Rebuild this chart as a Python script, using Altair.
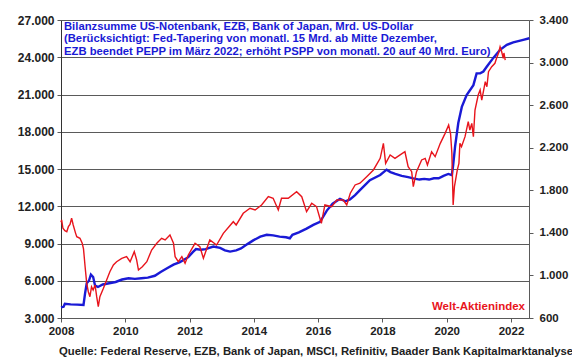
import altair as alt
import pandas as pd

# Bilanzsumme (Mrd. US-Dollar), linke Achse
blue_year = [2008.0, 2008.08, 2008.12, 2008.3, 2008.5, 2008.7, 2008.75, 2008.8, 2008.87, 2008.93,
             2009.0, 2009.06, 2009.15, 2009.3, 2009.5, 2009.7, 2009.9, 2010.1, 2010.3, 2010.5,
             2010.7, 2010.92, 2011.1, 2011.3, 2011.5, 2011.7, 2011.96, 2012.1, 2012.2, 2012.35,
             2012.5, 2012.74, 2012.95, 2013.1, 2013.26, 2013.45, 2013.6, 2013.8, 2013.98, 2014.2,
             2014.4, 2014.6, 2014.8, 2015.0, 2015.12, 2015.2, 2015.4, 2015.64, 2015.85, 2016.06,
             2016.27, 2016.45, 2016.68, 2016.85, 2016.99, 2017.15, 2017.3, 2017.61, 2017.93, 2018.13,
             2018.25, 2018.4, 2018.6, 2018.8, 2018.96, 2019.15, 2019.3, 2019.45, 2019.6, 2019.75,
             2019.9, 2020.05, 2020.16, 2020.2, 2020.26, 2020.36, 2020.47, 2020.62, 2020.83, 2020.93,
             2021.04, 2021.14, 2021.25, 2021.45, 2021.66, 2021.87, 2022.07, 2022.38, 2022.57]
blue_value = [3850, 3900, 4150, 4100, 4080, 4050, 5000, 5800, 6000, 6500,
              6300, 5600, 5500, 5700, 5800, 5900, 6100, 6200, 6150, 6200,
              6250, 6400, 6700, 7000, 7300, 7500, 7900, 8300, 8550, 8500,
              8550, 8750, 8650, 8450, 8350, 8450, 8600, 8950, 9250, 9550,
              9700, 9650, 9550, 9500, 9420, 9700, 9900, 10200, 10500, 10750,
              11650, 12200, 12600, 12400, 12550, 12900, 13300, 14100, 14520, 14950,
              14750, 14600, 14450, 14350, 14250, 14150, 14200, 14150, 14250, 14250,
              14450, 14600, 14500, 15300, 16800, 18700, 20000, 20950, 21750, 22700,
              22700, 22850, 23250, 23950, 24600, 25000, 25200, 25400, 25530]

# Welt-Aktienindex, rechte Achse
red_year = [2008.0, 2008.02, 2008.06, 2008.12, 2008.18, 2008.23, 2008.28, 2008.33, 2008.38, 2008.45,
            2008.49, 2008.59, 2008.66, 2008.7, 2008.75, 2008.8, 2008.85, 2008.9, 2008.95, 2009.0,
            2009.06, 2009.11, 2009.16, 2009.21, 2009.32, 2009.42, 2009.52, 2009.63, 2009.73, 2009.89,
            2010.04, 2010.15, 2010.28, 2010.35, 2010.41, 2010.53, 2010.67, 2010.82, 2010.98, 2011.13,
            2011.24, 2011.39, 2011.5, 2011.55, 2011.65, 2011.76, 2011.86, 2011.96, 2012.17, 2012.32,
            2012.43, 2012.63, 2012.84, 2013.05, 2013.36, 2013.45, 2013.67, 2013.88, 2014.04, 2014.24,
            2014.45, 2014.6, 2014.76, 2014.86, 2015.07, 2015.33, 2015.49, 2015.64, 2015.8, 2015.95,
            2016.1, 2016.21, 2016.42, 2016.58, 2016.78, 2016.89, 2017.0, 2017.15, 2017.3, 2017.51,
            2017.72, 2017.93, 2018.03, 2018.1, 2018.24, 2018.39, 2018.55, 2018.7, 2018.8, 2018.91,
            2018.96, 2019.06, 2019.22, 2019.33, 2019.4, 2019.53, 2019.64, 2019.8, 2019.95, 2020.06,
            2020.12, 2020.16, 2020.2, 2020.24, 2020.33, 2020.38, 2020.41, 2020.46, 2020.57, 2020.67,
            2020.72, 2020.78, 2020.83, 2020.88, 2020.98, 2021.04, 2021.09, 2021.2, 2021.25, 2021.3,
            2021.4, 2021.5, 2021.55, 2021.61, 2021.66, 2021.71, 2021.76, 2021.78, 2021.82]
red_value = [1500, 1521, 1443, 1420, 1411, 1458, 1480, 1537, 1474, 1400,
             1364, 1349, 1302, 1250, 1082, 926, 847, 800, 894, 863,
             910, 800, 706, 800, 879, 957, 1035, 1098, 1129, 1161,
             1176, 1129, 1223, 1150, 1051, 1082, 1129, 1239, 1302, 1349,
             1333, 1380, 1302, 1176, 1129, 1176, 1114, 1192, 1302, 1270,
             1161, 1333, 1286, 1396, 1505, 1474, 1584, 1631, 1615, 1662,
             1740, 1725, 1615, 1725, 1725, 1787, 1740, 1599, 1678, 1646,
             1490, 1662, 1646, 1709, 1709, 1662, 1772, 1850, 1866, 1928,
             1991, 2100, 2241, 2053, 2132, 2100, 2132, 2162, 2022, 1975,
             1834, 1975, 2085, 2100, 2038, 2162, 2116, 2241, 2335, 2413,
             2330, 2150, 1662, 1834, 1991, 2053, 2241, 2210, 2304, 2445,
             2366, 2429, 2304, 2554, 2695, 2742, 2648, 2820, 2773, 2914,
             2961, 2993, 3040, 3087, 3149, 3102, 3040, 3090, 3024]

x_ticks = [2008, 2010, 2012, 2014, 2016, 2018, 2020, 2022]
left_ticks = [3000, 6000, 9000, 12000, 15000, 18000, 21000, 24000, 27000]
right_ticks = [600, 1000, 1400, 1800, 2200, 2600, 3000, 3400]

title_lines = ["Bilanzsumme US-Notenbank, EZB, Bank of Japan, Mrd. US-Dollar",
               "(Berücksichtigt: Fed-Tapering von monatl. 15 Mrd. ab Mitte Dezember,",
               "EZB beendet PEPP im März 2022; erhöht PSPP von monatl. 20 auf 40 Mrd. Euro)"]
series_label = "Welt-Aktienindex"
source_text = "Quelle: Federal Reserve, EZB, Bank of Japan, MSCI, Refinitiv, Baader Bank Kapitalmarktanalyse"

FONT = "Liberation Sans"
BLUE = "#1a1ad6"
RED = "#e8141c"
GRID = "#5a5a5a"
de_fmt = "replace(format(datum.value, ','), ',', '.')"

blue_df = pd.DataFrame({"year": blue_year, "value": blue_value})
red_df = pd.DataFrame({"year": red_year, "value": red_value})

x_enc = alt.X("year:Q",
              scale=alt.Scale(domain=[2008, 2022.56], nice=False, zero=False),
              axis=alt.Axis(values=x_ticks, format="d", title=None, grid=False,
                            labelFont=FONT, labelFontSize=11.5, labelFontWeight="bold",
                            labelColor="#222", tickSize=4, tickColor=GRID,
                            domainColor=GRID, labelPadding=3, labelFlush=False))

blue = alt.Chart(blue_df).mark_line(color=BLUE, strokeWidth=2.4).encode(
    x=x_enc,
    y=alt.Y("value:Q",
            scale=alt.Scale(domain=[3000, 27000], nice=False, zero=False),
            axis=alt.Axis(values=left_ticks, labelExpr=de_fmt, title=None, grid=True,
                          gridColor=GRID, gridWidth=1, gridOpacity=1,
                          labelFont=FONT, labelFontSize=12, labelFontWeight="bold",
                          labelColor="#222", tickSize=4, tickColor=GRID,
                          domainColor="#333", labelPadding=3)),
)

red = alt.Chart(red_df).mark_line(color=RED, strokeWidth=1.4).encode(
    x=x_enc,
    y=alt.Y("value:Q",
            scale=alt.Scale(domain=[600, 3400], nice=False, zero=False),
            axis=alt.Axis(values=right_ticks, labelExpr=de_fmt, title=None, grid=False,
                          orient="right",
                          labelFont=FONT, labelFontSize=11.5, labelFontWeight="bold",
                          labelColor="#222", tickSize=4, tickColor=GRID,
                          domainColor=GRID, labelPadding=6)),
)

title_txt = alt.Chart(pd.DataFrame({"t": [title_lines]})).mark_text(
    align="left", baseline="top", font=FONT, fontSize=11.25, fontWeight="bold",
    color=BLUE, lineHeight=12.3
).encode(x=alt.value(3), y=alt.value(1), text="t:N")

label_txt = alt.Chart(pd.DataFrame({"t": [series_label]})).mark_text(
    align="right", baseline="middle", font=FONT, fontSize=11.5, fontWeight="bold", color=RED
).encode(x=alt.value(464), y=alt.value(287), text="t:N")

source_txt = alt.Chart(pd.DataFrame({"t": [source_text]})).mark_text(
    align="right", baseline="alphabetic", font=FONT, fontSize=11.3, fontWeight="bold", color="#222"
).encode(x=alt.value(512), y=alt.value(335), text="t:N")

chart = alt.layer(blue, red, title_txt, label_txt, source_txt).resolve_scale(
    y="independent"
).properties(
    width=468, height=298,
    autosize=alt.AutoSizeParams(type="none"),
    padding={"left": 53, "top": 12, "right": 43, "bottom": 41},
).configure_view(stroke=GRID, strokeWidth=1).configure(background="white")

chart.save("out.html", embed_options={"renderer": "svg", "actions": False})
